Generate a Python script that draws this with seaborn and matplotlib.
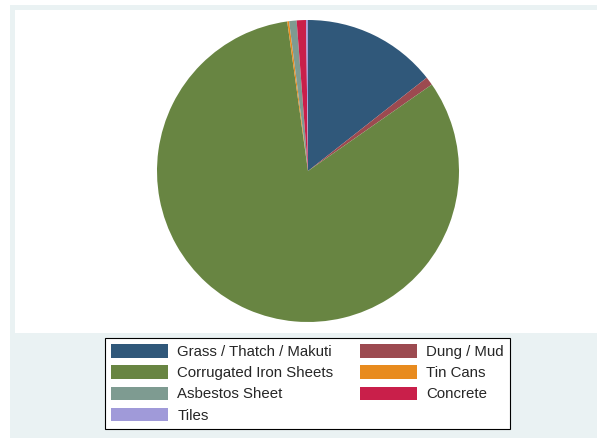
import matplotlib
matplotlib.use("Agg")
import matplotlib.pyplot as plt
from matplotlib.patches import Rectangle, Patch
import seaborn as sns

categories = ["Grass / Thatch / Makuti", "Dung / Mud", "Corrugated Iron Sheets",
              "Tin Cans", "Asbestos Sheet", "Concrete", "Tiles"]
values = [14.4, 0.9, 82.5, 0.2, 0.8, 1.0, 0.2]
colors = ["#30587A", "#9C4A50", "#688542", "#E88B1E", "#7E9B91", "#C91F4A", "#A09AD9"]

sns.set_style("white")
plt.rcParams['font.family'] = ['Liberation Sans', 'DejaVu Sans']

W, H = 597, 438
fig = plt.figure(figsize=(W / 100, H / 100), dpi=100)
fig.patch.set_facecolor("white")

# outer graph region and inner plot region
fig.add_artist(Rectangle((10 / W, 0), 1, 1 - 5 / H, transform=fig.transFigure,
                         facecolor="#EAF2F3", edgecolor="none", zorder=-10))
fig.add_artist(Rectangle((15 / W, 1 - 333 / H), 1, (333 - 10) / H, transform=fig.transFigure,
                         facecolor="white", edgecolor="none", zorder=-9))

cx, cy, r = 308, 171, 151
ax = fig.add_axes([(cx - r) / W, 1 - (cy + r) / H, 2 * r / W, 2 * r / H])
ax.set_zorder(5)
pal = sns.color_palette(colors)
ax.pie(values, colors=pal, startangle=90, counterclock=False, radius=1,
       wedgeprops=dict(linewidth=0))
ax.set_xlim(-1, 1)
ax.set_ylim(-1, 1)
ax.set_aspect("equal")
ax.axis("off")

handles = [Patch(facecolor=c, edgecolor="none") for c in pal]
order = [0, 2, 4, 6, 1, 3, 5]
leg = fig.legend([handles[i] for i in order], [categories[i] for i in order],
                 ncol=2, loc="upper left",
                 bbox_to_anchor=(105 / W, 1 - 338 / H), bbox_transform=fig.transFigure,
                 borderaxespad=0, fontsize=10.8, handlelength=3.8, handleheight=1.0,
                 handletextpad=0.6, labelspacing=0.42, columnspacing=1.8,
                 borderpad=0.42, fancybox=False, frameon=True)
leg.set_zorder(6)
fr = leg.get_frame()
fr.set_edgecolor("black")
fr.set_linewidth(0.8)
fr.set_facecolor("white")
fr.set_alpha(1)

fig.savefig("out.png", dpi=100)
